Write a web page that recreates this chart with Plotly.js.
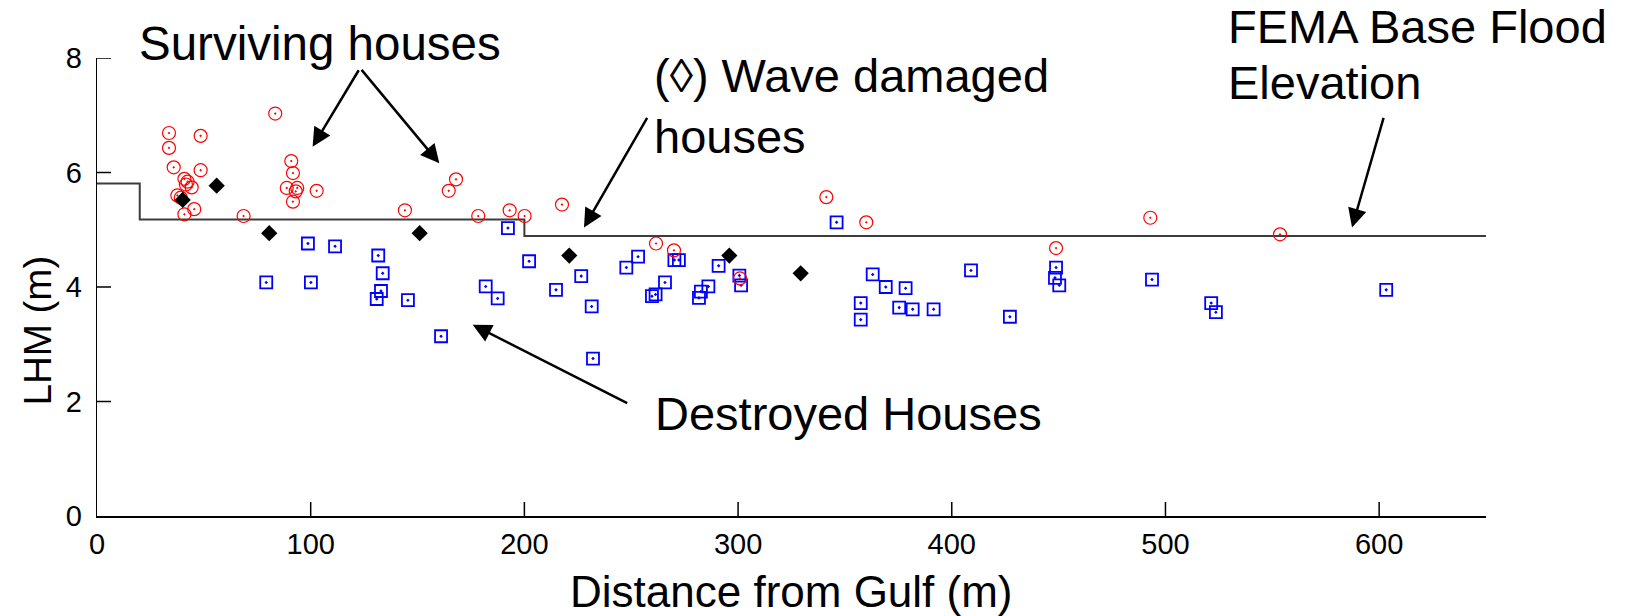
<!DOCTYPE html>
<html>
<head>
<meta charset="utf-8">
<script src="https://cdn.plot.ly/plotly-3.0.1.min.js"></script>
<style>html,body{margin:0;padding:0;background:#fff;}#chart{width:1630px;height:616px;}</style>
</head>
<body>
<div id="chart"></div>
<script>
// Surviving houses (red circles)
const survivingX = [33.7, 33.7, 48.5, 83.4, 35.9, 48.5, 90.9, 91.7, 40.9, 42.4, 41.6, 44.3, 37.6, 39.2, 45.5, 40.9, 88.8, 93.7, 93.0, 91.7, 102.8, 68.6, 144.1, 168.0, 164.6, 178.4, 193.1, 200.1, 217.6, 261.6, 270.0, 300.9, 341.3, 360.0, 448.8, 492.9, 553.6];
const survivingY = [6.69, 6.43, 6.64, 7.03, 6.09, 6.04, 6.20, 5.99, 5.89, 5.84, 5.79, 5.74, 5.60, 5.56, 5.36, 5.27, 5.73, 5.73, 5.67, 5.49, 5.68, 5.24, 5.34, 5.88, 5.68, 5.24, 5.34, 5.24, 5.44, 4.76, 4.64, 4.15, 5.57, 5.13, 4.68, 5.21, 4.92];

// Wave damaged houses (black diamonds)
const waveX = [40.1, 56.0, 80.6, 151.0, 221.0, 295.9, 329.3];
const waveY = [5.52, 5.77, 4.94, 4.94, 4.55, 4.55, 4.24];

// Destroyed houses (blue squares)
const destroyedX = [79.2, 98.7, 100.1, 111.4, 130.9, 131.6, 132.9, 133.7, 145.5, 161.0, 181.9, 187.5, 192.3, 202.2, 214.8, 226.6, 231.5, 232.1, 247.7, 253.2, 259.7, 261.4, 265.8, 270.2, 272.3, 281.7, 282.6, 286.1, 290.9, 300.6, 301.4, 346.1, 357.4, 357.4, 363.0, 369.1, 375.4, 378.4, 381.7, 391.5, 409.0, 427.2, 448.3, 448.8, 450.3, 493.7, 521.4, 523.6, 603.3];
const destroyedY = [4.08, 4.76, 4.08, 4.71, 3.79, 4.55, 3.93, 4.24, 3.77, 3.14, 4.01, 3.80, 5.03, 4.45, 3.95, 4.19, 3.66, 2.75, 4.34, 4.53, 3.84, 3.87, 4.08, 4.47, 4.47, 3.81, 3.92, 4.01, 4.37, 4.20, 4.03, 5.13, 3.72, 3.43, 4.22, 4.00, 3.64, 3.98, 3.61, 3.61, 4.29, 3.48, 4.16, 4.34, 4.03, 4.13, 3.72, 3.56, 3.95];

// FEMA Base Flood Elevation (step line)
const femaX = [0, 20, 200, 650];
const femaY = [5.81, 5.18, 4.89, 4.89];

const xTicks = [0, 100, 200, 300, 400, 500, 600];
const yTicks = [0, 2, 4, 6, 8];

const FONT = 'Liberation Sans, Arial, Helvetica, sans-serif';

const W = 1630, H = 616;
const M = {l: 97, r: 144, t: 58, b: 100, pad: 0};
const X_RANGE = [0, 650], Y_RANGE = [0, 8];
const TICK_PX = 14;
const plotW = W - M.l - M.r, plotH = H - M.t - M.b;
const xPerPx = (X_RANGE[1] - X_RANGE[0]) / plotW;
const yPerPx = (Y_RANGE[1] - Y_RANGE[0]) / plotH;

// inward tick marks built from the tick arrays, converted through the axis scales
const tickLineX = [], tickLineY = [];
xTicks.filter(v => v > X_RANGE[0]).forEach(v => {
  tickLineX.push(v, v, null);
  tickLineY.push(Y_RANGE[0], Y_RANGE[0] + TICK_PX * yPerPx, null);
});
yTicks.filter(v => v > Y_RANGE[0]).forEach(v => {
  tickLineX.push(X_RANGE[0], X_RANGE[0] + TICK_PX * xPerPx, null);
  tickLineY.push(v, v, null);
});

const traces = [
  {x: tickLineX, y: tickLineY, mode: 'lines', line: {color: '#000', width: 1.5}, connectgaps: false, cliponaxis: false, hoverinfo: 'skip'},
  {x: femaX, y: femaY, mode: 'lines', line: {shape: 'hv', color: '#3c3c3c', width: 2}},
  {x: destroyedX, y: destroyedY, mode: 'markers', marker: {symbol: 'square-open-dot', size: 12, color: '#0000ff', line: {color: '#0000ff', width: 1.8}}},
  {x: survivingX, y: survivingY, mode: 'markers', marker: {symbol: 'circle-open-dot', size: 13, color: '#ff0000', line: {color: '#ff0000', width: 1.2}}},
  {x: waveX, y: waveY, mode: 'markers', marker: {symbol: 'diamond', size: 12.5, color: '#000000', line: {width: 0}}}
];

const annFont = {family: FONT, size: 47, color: '#000'};
const arrowCommon = {xref: 'x', yref: 'y', axref: 'pixel', ayref: 'pixel', showarrow: true, arrowhead: 2, arrowsize: 1.5, arrowwidth: 2.5, arrowcolor: '#000', text: ''};

const layout = {
  width: W, height: H,
  margin: M,
  paper_bgcolor: '#fff', plot_bgcolor: '#fff',
  showlegend: false,
  font: {family: FONT, color: '#000'},
  xaxis: {
    range: X_RANGE, tickmode: 'array', tickvals: xTicks, ticktext: xTicks.map(String),
    ticks: '', showline: true, linecolor: '#000', linewidth: 1.5, mirror: false,
    showgrid: false, zeroline: false,
    tickfont: {family: FONT, size: 29, color: '#000'}, ticklabelstandoff: 2
  },
  yaxis: {
    range: Y_RANGE, tickmode: 'array', tickvals: yTicks, ticktext: yTicks.map(String),
    ticks: '', showline: true, linecolor: '#000', linewidth: 1.2, mirror: false,
    showgrid: false, zeroline: false,
    tickfont: {family: FONT, size: 29, color: '#000'}, ticklabelstandoff: 8
  },
  annotations: [
    // axis titles
    {text: 'Distance from Gulf (m)', xref: 'paper', yref: 'paper', x: 0.5, y: -0.165, xanchor: 'center', yanchor: 'middle', showarrow: false, font: {family: FONT, size: 44, color: '#000'}},
    {text: 'LHM (m)', xref: 'paper', yref: 'paper', x: -0.0425, y: 0.405, xanchor: 'center', yanchor: 'middle', textangle: -90, showarrow: false, font: {family: FONT, size: 38.5, color: '#000'}},
    // labels
    {text: 'Surviving houses', xref: 'paper', yref: 'paper', x: 0.029, y: 1.031, xanchor: 'left', yanchor: 'middle', showarrow: false, font: {family: FONT, size: 47.5, color: '#000'}},
    {text: '(\u25CA) Wave damaged<br>houses', xref: 'paper', yref: 'paper', x: 0.3996, y: 0.896, xanchor: 'left', yanchor: 'middle', align: 'left', showarrow: false, font: annFont},
    {text: 'FEMA Base Flood', xref: 'paper', yref: 'paper', x: 0.813, y: 1.069, xanchor: 'left', yanchor: 'middle', align: 'left', showarrow: false, font: annFont},
    {text: 'Elevation', xref: 'paper', yref: 'paper', x: 0.813, y: 0.9465, xanchor: 'left', yanchor: 'middle', align: 'left', showarrow: false, font: annFont},
    {text: 'Destroyed Houses', xref: 'paper', yref: 'paper', x: 0.4003, y: 0.2247, xanchor: 'left', yanchor: 'middle', showarrow: false, font: annFont},
    // arrows (tip in data coords, tail offset in px)
    Object.assign({x: 100.9, y: 6.45, ax: 47, ay: -78}, arrowCommon),
    Object.assign({x: 160.2, y: 6.16, ax: -79, ay: -95}, arrowCommon),
    Object.assign({x: 227.9, y: 5.04, ax: 64, ay: -111}, arrowCommon),
    Object.assign({x: 587.3, y: 5.04, ax: 32, ay: -111}, arrowCommon),
    Object.assign({x: 175.8, y: 3.34, ax: 156, ay: 79}, arrowCommon)
  ]
};

Plotly.newPlot('chart', traces, layout, {staticPlot: true, displayModeBar: false});
</script>
</body>
</html>
